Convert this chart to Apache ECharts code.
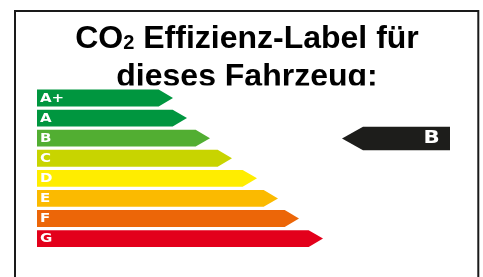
<!DOCTYPE html>
<html>
<head>
<meta charset="utf-8">
<script src="https://cdn.jsdelivr.net/npm/echarts@6/dist/echarts.min.js"></script>
<style>
html,body{margin:0;padding:0;background:#fff;}
#c{width:483px;height:277px;}
</style>
</head>
<body>
<div id="c"></div>
<script>
// Data
const categories = ['A+', 'A', 'B', 'C', 'D', 'E', 'F', 'G'];
const barLengths = [136, 150, 173, 195, 220, 241, 262, 286];
const barColors = ['#00963f', '#00963f', '#52ae32', '#c8d400', '#ffed00', '#fbba00', '#ec6608', '#e3001b'];
const rating = 'B';
const titleLine1 = ['CO', '2', ' Effizienz-Label für'];
const titleLine2 = 'dieses Fahrzeug:';

const chart = echarts.init(document.getElementById('c'), null, {renderer: 'canvas'});
const xMax = 413;

const bigFont = 'bold 32px "Liberation Sans", Arial, sans-serif';
const smallFont = 'bold 20px "Liberation Sans", Arial, sans-serif';
const ctx = document.createElement('canvas').getContext('2d');
function measure(t, f) { ctx.font = f; return ctx.measureText(t).width; }
const wCO = measure(titleLine1[0], bigFont);
const w2 = measure(titleLine1[1], smallFont);
const wRest = measure(titleLine1[2], bigFont);
const titleCx = 247;
const line1Start = titleCx - (wCO + w2 + wRest) / 2;
const base1 = 50.5, base2 = 88.5;
const mid = (base, size) => base - 0.3465 * size;

function renderBar(params, api) {
  const len = api.value(0);
  const idx = api.value(1);
  const start = api.coord([0, idx]);
  const end = api.coord([len, idx]);
  const band = api.size([0, 1])[1];
  const h = band * 0.84;
  const head = h * 0.85;
  const y = start[1];
  const x0 = start[0], x1 = end[0];
  return {
    type: 'group',
    children: [
      {
        type: 'polygon',
        shape: {points: [[x0, y - h / 2], [x1 - head, y - h / 2], [x1, y], [x1 - head, y + h / 2], [x0, y + h / 2]]},
        style: {fill: barColors[params.dataIndex]}
      },
      {
        type: 'text',
        x: x0 + 3, y: y + 0.5,
        scaleX: 1.2,
        style: {
          text: categories[params.dataIndex],
          fill: '#ffffff',
          font: 'bold 12.5px "DejaVu Sans", sans-serif',
          align: 'left', verticalAlign: 'middle'
        }
      }
    ]
  };
}

function renderPointer(params, api) {
  const right = api.coord([api.value(0), api.value(1)]);
  const x1 = right[0];
  const y = right[1] + 0.3;
  const h = 23.3;
  const len = 108;
  const head = 21;
  const x0 = x1 - len;
  return {
    type: 'group',
    children: [
      {
        type: 'polygon',
        shape: {points: [[x0, y], [x0 + head, y - h / 2], [x1, y - h / 2], [x1, y + h / 2], [x0 + head, y + h / 2]]},
        style: {fill: '#1d1d1b'}
      },
      {
        type: 'text',
        x: x1 - 18.5, y: y + 0.5,
        scaleX: 1.25,
        style: {
          text: rating,
          fill: '#ffffff',
          font: 'bold 17px "DejaVu Sans", sans-serif',
          align: 'center', verticalAlign: 'middle'
        }
      }
    ]
  };
}

const option = {
  animation: false,
  grid: {left: 37, right: 33, top: 88, bottom: 28.4},
  xAxis: {type: 'value', min: 0, max: xMax, show: false},
  yAxis: {type: 'category', data: categories, inverse: true, show: false},
  graphic: [
    {
      type: 'rect', z: 0,
      shape: {x: 15, y: 11, width: 463.3, height: 290},
      style: {fill: 'none', stroke: '#1a1a1a', lineWidth: 2}
    },
    {
      type: 'text', z: 1, x: line1Start, y: mid(base1, 32),
      style: {text: titleLine1[0], font: bigFont, fill: '#000', align: 'left', verticalAlign: 'middle'}
    },
    {
      type: 'text', z: 1, x: line1Start + wCO, y: mid(base1, 20),
      style: {text: titleLine1[1], font: smallFont, fill: '#000', align: 'left', verticalAlign: 'middle'}
    },
    {
      type: 'text', z: 1, x: line1Start + wCO + w2, y: mid(base1, 32),
      style: {text: titleLine1[2], font: bigFont, fill: '#000', align: 'left', verticalAlign: 'middle'}
    },
    {
      type: 'text', z: 1, x: titleCx, y: mid(base2, 32),
      style: {text: titleLine2, font: bigFont, fill: '#000', align: 'center', verticalAlign: 'middle'}
    },
    {
      type: 'rect', z: 2,
      shape: {x: 20, y: 85.5, width: 445, height: 185},
      style: {fill: '#ffffff'}
    }
  ],
  series: [
    {
      type: 'custom', z: 10,
      coordinateSystem: 'cartesian2d',
      renderItem: renderBar,
      encode: {x: 0, y: 1},
      data: barLengths.map((v, i) => [v, i])
    },
    {
      type: 'custom', z: 10,
      coordinateSystem: 'cartesian2d',
      renderItem: renderPointer,
      encode: {x: 0, y: 1},
      data: [[xMax, categories.indexOf(rating)]]
    }
  ]
};
chart.setOption(option);
</script>
</body>
</html>
